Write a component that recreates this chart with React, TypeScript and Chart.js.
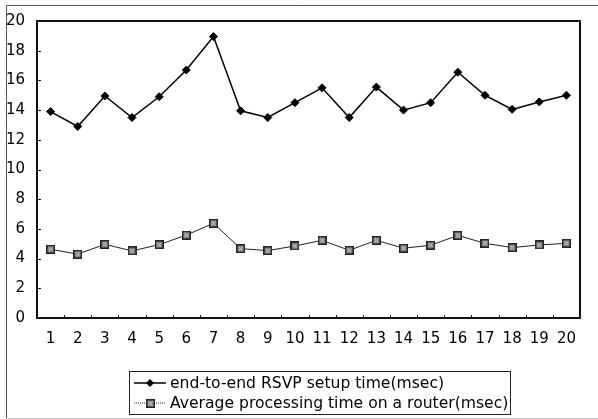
import React, { useEffect, useRef } from "react";
import { Chart, registerables } from "chart.js";

Chart.register(...registerables);

const categories = ["1","2","3","4","5","6","7","8","9","10","11","12","13","14","15","16","17","18","19","20"];
const setupTime = [13.9, 12.9, 14.95, 13.5, 14.9, 16.7, 18.95, 13.95, 13.5, 14.5, 15.5, 13.5, 15.55, 14.0, 14.5, 16.55, 15.0, 14.05, 14.55, 15.0];
const routerTime = [4.63, 4.3, 4.96, 4.52, 4.94, 5.58, 6.38, 4.67, 4.54, 4.85, 5.23, 4.56, 5.23, 4.7, 4.9, 5.56, 5.03, 4.74, 4.92, 5.03];
const seriesLabels = ["end-to-end RSVP setup time(msec)", "Average processing time on a router(msec)"];
const yTicksMin = 0;
const yTicksMax = 20;
const yTickStep = 2;

const FONT = "'DejaVu Sans', sans-serif";

function makeSquareMarker(): HTMLCanvasElement {
  const c = document.createElement("canvas");
  const s = 9;
  c.width = s;
  c.height = s;
  const g = c.getContext("2d")!;
  g.fillStyle = "#222222";
  g.fillRect(0, 0, s, s);
  g.fillStyle = "#8a8a8a";
  g.fillRect(1.5, 1.5, s - 3, s - 3);
  g.strokeStyle = "#d0d0d0";
  g.lineWidth = 1;
  g.beginPath();
  g.moveTo(2.5, 2.5); g.lineTo(s - 2.5, s - 2.5);
  g.moveTo(s - 2.5, 2.5); g.lineTo(2.5, s - 2.5);
  g.stroke();
  return c;
}

export default function App() {
  const ref = useRef<HTMLCanvasElement | null>(null);

  useEffect(() => {
    if (!ref.current) return;
    const square = makeSquareMarker();

    const framePlugin = {
      id: "framePlugin",
      beforeDraw(chart: any) {
        const ctx = chart.ctx;
        ctx.save();
        ctx.fillStyle = "#ffffff";
        ctx.fillRect(0, 0, chart.width, chart.height);
        ctx.strokeStyle = "#555";
        ctx.lineWidth = 1;
        ctx.beginPath();
        ctx.moveTo(6.5, 419);
        ctx.lineTo(6.5, 5.5);
        ctx.lineTo(598, 5.5);
        ctx.stroke();
        ctx.strokeStyle = "#cccccc";
        ctx.beginPath();
        ctx.moveTo(6, 418.5);
        ctx.lineTo(598, 418.5);
        ctx.stroke();
        ctx.restore();
      },
      afterDatasetsDraw(chart: any) {
        const ctx = chart.ctx;
        const a = chart.chartArea;
        const xs = chart.scales.x;
        const ys = chart.scales.y;
        ctx.save();
        ctx.strokeStyle = "#111";
        ctx.lineWidth = 2;
        ctx.strokeRect(a.left, a.top, a.right - a.left, a.bottom - a.top);
        ctx.lineWidth = 1;
        ctx.beginPath();
        for (let i = 0; i <= categories.length; i++) {
          const x = Math.round(xs.getPixelForValue(i - 0.5)) + 0.5;
          ctx.moveTo(x, a.bottom);
          ctx.lineTo(x, a.bottom - 3);
        }
        for (let v = yTicksMin + yTickStep; v < yTicksMax; v += yTickStep) {
          const y = Math.round(ys.getPixelForValue(v)) + 0.5;
          ctx.moveTo(a.left, y);
          ctx.lineTo(a.left + 4, y);
        }
        ctx.stroke();
        ctx.restore();
      },
      afterDraw(chart: any) {
        const ctx = chart.ctx;
        const ds = chart.data.datasets;
        const bx = 129.5, by = 371.5, bw = 381, bh = 43;
        ctx.save();
        ctx.fillStyle = "#fff";
        ctx.fillRect(bx, by, bw, bh);
        ctx.strokeStyle = "#222";
        ctx.lineWidth = 1;
        ctx.strokeRect(bx, by, bw, bh);
        const rows = [383, 403];
        ds.forEach((d: any, i: number) => {
          const y = rows[i];
          ctx.strokeStyle = d.borderColor;
          ctx.lineWidth = i === 0 ? 1.5 : 1;
          ctx.setLineDash(i === 0 ? [] : [1, 1]);
          ctx.beginPath();
          ctx.moveTo(134, y);
          ctx.lineTo(166, y);
          ctx.stroke();
          ctx.setLineDash([]);
          if (i === 0) {
            ctx.fillStyle = "#000";
            ctx.beginPath();
            ctx.moveTo(150, y - 4);
            ctx.lineTo(154, y);
            ctx.lineTo(150, y + 4);
            ctx.lineTo(146, y);
            ctx.closePath();
            ctx.fill();
          } else {
            ctx.drawImage(square, 146, y - 4);
          }
          ctx.fillStyle = "#000";
          ctx.font = `15.6px ${FONT}`;
          ctx.textBaseline = "middle";
          ctx.textAlign = "left";
          ctx.fillText(d.label, 170, y + 1);
        });
        ctx.restore();
      },
    };

    const chart = new Chart(ref.current, {
      type: "line",
      data: {
        labels: categories,
        datasets: [
          {
            label: seriesLabels[0],
            data: setupTime,
            borderColor: "#000",
            backgroundColor: "#000",
            borderWidth: 1.5,
            pointStyle: "rectRot",
            pointRadius: 4,
            pointBackgroundColor: "#000",
            pointBorderColor: "#000",
            pointBorderWidth: 1,
            tension: 0,
          },
          {
            label: seriesLabels[1],
            data: routerTime,
            borderColor: "#222",
            backgroundColor: "#999",
            borderWidth: 1,
            pointStyle: square as any,
            pointRadius: 4.5,
            tension: 0,
          },
        ],
      },
      options: {
        responsive: false,
        animation: false,
        devicePixelRatio: 1,
        layout: { padding: { left: 7, right: 18, top: 17, bottom: 61 } },
        plugins: { legend: { display: false }, tooltip: { enabled: false } },
        scales: {
          x: {
            type: "category",
            offset: true,
            grid: { display: false, drawTicks: false },
            border: { display: false },
            ticks: {
              color: "#000",
              font: { family: FONT, size: 15 },
              padding: 12,
              maxRotation: 0,
              autoSkip: false,
            },
            afterFit: (s: any) => { s.height = 40; },
          },
          y: {
            min: yTicksMin,
            max: yTicksMax,
            grid: { display: false, drawTicks: false },
            border: { display: false },
            ticks: {
              stepSize: yTickStep,
              color: "#000",
              font: { family: FONT, size: 15 },
              padding: 12,
            },
            afterFit: (s: any) => { s.width = 30; },
          },
        },
      },
      plugins: [framePlugin],
    });
    return () => chart.destroy();
  }, []);

  return (
    <div style={{ position: "absolute", left: 0, top: 0, width: 598, height: 419 }}>
      <canvas ref={ref} width={598} height={419} style={{ width: 598, height: 419, display: "block" }} />
    </div>
  );
}
